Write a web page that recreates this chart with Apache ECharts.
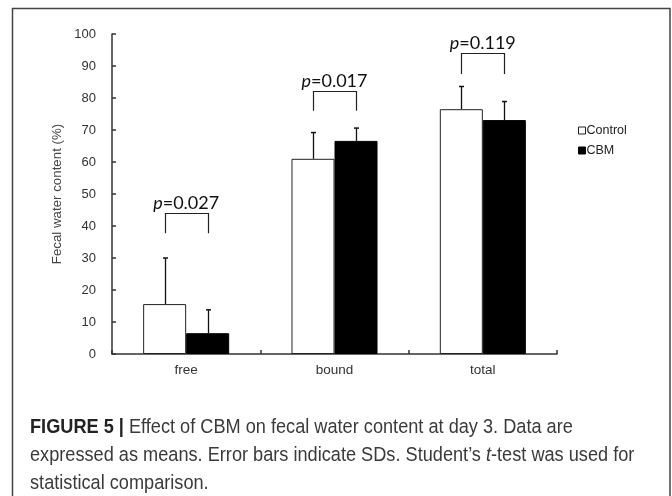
<!DOCTYPE html>
<html>
<head>
<meta charset="utf-8">
<script src="https://cdn.jsdelivr.net/npm/echarts@6/dist/echarts.min.js"></script>
<style>
html,body{margin:0;padding:0;background:#fff;}
#chart{width:672px;height:496px;}
</style>
</head>
<body>
<div id="chart"></div>
<script>
var categories = ['free', 'bound', 'total'];
var controlMean = [15.6, 61.0, 76.5];
var controlSD = [14.4, 8.2, 7.1];
var cbmMean = [6.5, 66.6, 73.1];
var cbmSD = [7.3, 4.0, 5.8];
var pValues = ['0.027', '0.017', '0.119'];
var bracketTop = [44.0, 82.2, 94.0];
var bracketFoot = [37.7, 76.0, 87.5];
var yTicks = [0, 10, 20, 30, 40, 50, 60, 70, 80, 90, 100];
var captionLines = [
  '{b|FIGURE 5 |} Effect of CBM on fecal water content at day 3. Data are',
  'expressed as means. Error bars indicate SDs. Student\u2019s {i|t}-test was used for',
  'statistical comparison.'
];

var BAR_FRAC = 0.29;
var chart = echarts.init(document.getElementById('chart'), null, {renderer: 'canvas'});

function errData(means, sds) {
  return means.map(function (m, i) { return [i, m, m + sds[i]]; });
}
function errRender(sign) {
  return function (params, api) {
    var bw = api.size([1, 0])[0];
    var off = sign * bw * BAR_FRAC / 2;
    var base = api.coord([api.value(0), api.value(1)]);
    var top = api.coord([api.value(0), api.value(2)]);
    var x = Math.round(base[0] + off) + 0.5;
    return {
      type: 'group',
      children: [
        {type: 'line', shape: {x1: x, y1: base[1], x2: x, y2: top[1]}, style: {stroke: '#111', lineWidth: 1.3}},
        {type: 'line', shape: {x1: x - 2.5, y1: top[1], x2: x + 2.5, y2: top[1]}, style: {stroke: '#111', lineWidth: 1.5}}
      ]
    };
  };
}

var bracketData = categories.map(function (c, i) { return [i, bracketTop[i], bracketFoot[i], pValues[i]]; });

var CAP_FONT = 'Liberation Sans';
var CAP_SIZE = 20.5;
var CAP_SX = 0.886;
function capText(txt, y) {
  return {type: 'text', x: 30, y: y, scaleX: CAP_SX, silent: true,
    style: {text: txt, x: 0, y: 0, verticalAlign: 'middle', fontFamily: CAP_FONT, fontSize: CAP_SIZE, fill: '#3a3a3a',
      rich: {
        b: {fontWeight: 'bold', fontFamily: CAP_FONT, fontSize: CAP_SIZE, fill: '#222', verticalAlign: 'middle'},
        i: {fontStyle: 'italic', fontFamily: CAP_FONT, fontSize: CAP_SIZE, fill: '#3a3a3a', verticalAlign: 'middle'}
      }}};
}

var option = {
  animation: false,
  backgroundColor: '#fff',
  grid: {left: 112, right: 115, top: 34, bottom: 142, containLabel: false},
  legend: {
    left: 573, top: 119, orient: 'vertical',
    itemWidth: 7, itemHeight: 7, itemGap: 7,
    icon: 'rect',
    textStyle: {fontFamily: 'Liberation Sans', fontSize: 12.5, color: '#222', padding: [0, 0, 0, -4]},
    data: [
      {name: 'Control', itemStyle: {color: '#fff', borderColor: '#222', borderWidth: 1}},
      {name: 'CBM', itemStyle: {color: '#000', borderColor: '#000', borderWidth: 1}}
    ]
  },
  xAxis: {
    type: 'category', data: categories,
    axisLine: {lineStyle: {color: '#333', width: 1.5}},
    axisTick: {show: true, inside: true, length: 4, alignWithLabel: false, lineStyle: {color: '#333', width: 1.5}},
    axisLabel: {fontFamily: 'Liberation Sans', fontSize: 13.5, color: '#333', margin: 9},
    splitLine: {show: false}
  },
  yAxis: {
    type: 'value', min: yTicks[0], max: yTicks[yTicks.length - 1], interval: 10,
    name: 'Fecal water content (%)', nameLocation: 'middle', nameGap: 39, nameRotate: 90,
    nameTextStyle: {fontFamily: 'Liberation Sans', fontSize: 13.3, color: '#444'},
    axisLine: {show: true, lineStyle: {color: '#333', width: 1.5}},
    axisTick: {show: true, inside: true, length: 4, lineStyle: {color: '#333', width: 1.5}},
    axisLabel: {fontFamily: 'Liberation Sans', fontSize: 13, color: '#333', margin: 16},
    splitLine: {show: false}
  },
  series: [
    {
      name: 'Control', type: 'bar', data: controlMean,
      barWidth: (BAR_FRAC * 100) + '%', barGap: '0%',
      itemStyle: {color: '#fff', borderColor: '#222', borderWidth: 1}
    },
    {
      name: 'CBM', type: 'bar', data: cbmMean,
      barWidth: (BAR_FRAC * 100) + '%', barGap: '0%',
      itemStyle: {color: '#000', borderColor: '#000', borderWidth: 1}
    },
    {
      type: 'custom', name: 'errControl', data: errData(controlMean, controlSD),
      renderItem: errRender(-1), z: 5, silent: true
    },
    {
      type: 'custom', name: 'errCBM', data: errData(cbmMean, cbmSD),
      renderItem: errRender(1), z: 5, silent: true
    },
    {
      type: 'custom', name: 'brackets', data: bracketData, z: 6, silent: true,
      renderItem: function (params, api) {
        var bw = api.size([1, 0])[0];
        var off = bw * BAR_FRAC / 2;
        var i = api.value(0);
        var t = api.coord([i, api.value(1)]);
        var f = api.coord([i, api.value(2)]);
        var xl = Math.round(t[0] - off) + 0.5, xr = Math.round(t[0] + off) + 0.5;
        var yt = Math.round(t[1]) + 0.5;
        return {
          type: 'group',
          children: [
            {type: 'polyline', shape: {points: [[xl, f[1]], [xl, yt], [xr, yt], [xr, f[1]]]},
             style: {stroke: '#222', lineWidth: 1.2, fill: null}},
            {type: 'text', x: t[0], y: yt - 1,
             style: {text: '{i|p}=' + pValues[params.dataIndex], align: 'center', verticalAlign: 'bottom',
                     fontFamily: 'Lato', fontSize: 18, fill: '#111',
                     rich: {i: {fontStyle: 'italic', fontFamily: 'Lato', fontSize: 18, fill: '#111'}}}}
          ]
        };
      }
    }
  ],
  graphic: [
    {type: 'rect', shape: {x: 12.5, y: 8.5, width: 657.5, height: 500}, style: {fill: null, stroke: '#444', lineWidth: 1.5}, silent: true},
    capText(captionLines[0], 427),
    capText(captionLines[1], 455),
    capText(captionLines[2], 483)
  ]
};
chart.setOption(option);
</script>
</body>
</html>
